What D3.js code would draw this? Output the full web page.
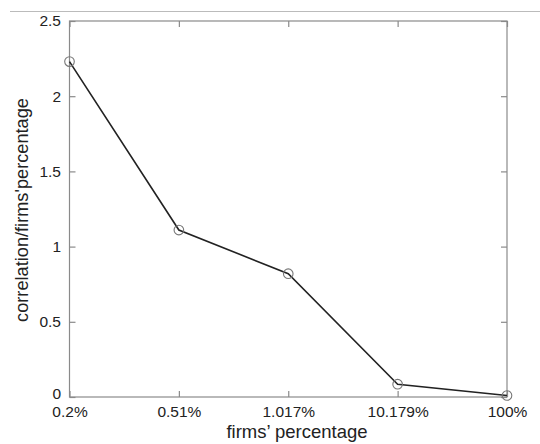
<!DOCTYPE html>
<html>
<head>
<meta charset="utf-8">
<script src="https://cdn.jsdelivr.net/npm/d3@7/dist/d3.min.js"></script>
<style>
  html, body { margin: 0; padding: 0; background: #fff; }
  svg { display: block; }
  text { font-family: "Liberation Sans", Arial, Helvetica, sans-serif; fill: #222; }
</style>
</head>
<body>
<script>
// Firms' percentage categories and the correlation ratio at each
const categories = ["0.2%", "0.51%", "1.017%", "10.179%", "100%"];
const values = [2.23, 1.11, 0.82, 0.085, 0.01];
const yTicks = [0, 0.5, 1, 1.5, 2, 2.5];
const yTickLabels = ["0", "0.5", "1", "1.5", "2", "2.5"];

const W = 540, H = 444;
const margin = { left: 69.5, right: 33, top: 21, bottom: 47 };

const svg = d3.select("body").append("svg").attr("width", W).attr("height", H);

// thin rule across the top of the page
svg.append("line")
  .attr("x1", 10).attr("x2", W).attr("y1", 11.5).attr("y2", 11.5)
  .attr("stroke", "#bbb").attr("stroke-width", 1);

const x = d3.scalePoint().domain(categories).range([margin.left, W - margin.right]);
const y = d3.scaleLinear().domain([0, 2.5]).range([H - margin.bottom, margin.top]);

const frameColor = "#8a8a8a";
const tickLen = 6;
const tickFont = 15.5;

// plot frame
svg.append("rect")
  .attr("x", margin.left).attr("y", margin.top)
  .attr("width", W - margin.right - margin.left)
  .attr("height", H - margin.bottom - margin.top)
  .attr("fill", "none").attr("stroke", frameColor).attr("stroke-width", 1.2);

// inward ticks on all four sides
const axisStyle = g => {
  g.select(".domain").remove();
  g.selectAll(".tick line").attr("stroke", frameColor).attr("stroke-width", 1.2);
};
svg.append("g").attr("transform", `translate(0,${y(0)})`)
  .call(d3.axisBottom(x).tickSizeInner(-tickLen).tickSizeOuter(0).tickPadding(9))
  .call(axisStyle)
  .selectAll("text").attr("font-size", tickFont).attr("fill", "#222");
svg.append("g").attr("transform", `translate(0,${y(2.5)})`)
  .call(d3.axisTop(x).tickSizeInner(-tickLen).tickSizeOuter(0).tickFormat(""))
  .call(axisStyle);
const yAxisG = svg.append("g").attr("transform", `translate(${margin.left},0)`)
  .call(d3.axisLeft(y).tickValues(yTicks).tickFormat((d, i) => yTickLabels[i])
    .tickSizeInner(-tickLen).tickSizeOuter(0).tickPadding(8.5))
  .call(axisStyle);
yAxisG.selectAll("text").attr("font-size", tickFont).attr("fill", "#222");
// lift the zero label so it clears the first category label beneath it
yAxisG.selectAll(".tick").filter(d => d === 0).select("text").attr("dy", "0.1em");
svg.append("g").attr("transform", `translate(${W - margin.right},0)`)
  .call(d3.axisRight(y).tickValues(yTicks).tickSizeInner(-tickLen).tickSizeOuter(0).tickFormat(""))
  .call(axisStyle);

// the series line and open circle markers
const pts = categories.map((c, i) => ({ c, v: values[i] }));
svg.append("path")
  .datum(pts)
  .attr("fill", "none").attr("stroke", "#222").attr("stroke-width", 1.6)
  .attr("d", d3.line().x(d => x(d.c)).y(d => y(d.v)));
svg.selectAll("circle.pt").data(pts).enter().append("circle")
  .attr("class", "pt")
  .attr("cx", d => x(d.c)).attr("cy", d => y(d.v)).attr("r", 4.8)
  .attr("fill", "none").attr("stroke", "#777").attr("stroke-width", 1.1);

// axis titles
svg.append("text")
  .attr("x", 297).attr("y", 438)
  .attr("text-anchor", "middle").attr("font-size", 18.5)
  .text("firms\u2019 percentage");
svg.append("text")
  .attr("transform", `translate(28,210) rotate(-90)`)
  .attr("text-anchor", "middle").attr("font-size", 18.2)
  .text("correlation/firms'percentage");
</script>
</body>
</html>
